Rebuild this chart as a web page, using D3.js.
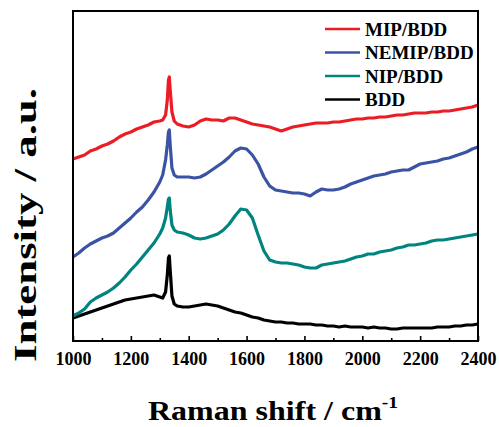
<!DOCTYPE html>
<html>
<head>
<meta charset="utf-8">
<script src="https://cdn.jsdelivr.net/npm/d3@7"></script>
<style>
  body { margin: 0; background: #fff; }
  text { font-family: "Liberation Serif", "Times New Roman", serif; font-weight: bold; }
</style>
</head>
<body>
<div id="chart"></div>
<script>
// Raman shift (cm-1), shared by all spectra
const shift = [
  1000, 1020, 1040, 1060, 1080, 1100, 1120, 1140, 1160, 1180, 1200, 1220, 1240, 1260, 1280, 1300,
  1310, 1320, 1326, 1330, 1333, 1336, 1342, 1350,
  1360, 1380, 1400, 1420, 1440, 1460, 1480, 1500, 1520, 1540, 1560, 1580, 1600, 1620, 1640, 1660,
  1680, 1700, 1720, 1740, 1760, 1780, 1800, 1820, 1840, 1860, 1880, 1900, 1920, 1940, 1960, 1980,
  2000, 2020, 2040, 2060, 2080, 2100, 2120, 2140, 2160, 2180, 2200, 2220, 2240, 2260, 2280, 2300,
  2320, 2340, 2360, 2380, 2400
];

// intensities (a.u., offset stacked as in the figure)
const mipBdd = [
  182, 184, 186, 190, 192, 195, 197, 200, 204, 207, 209, 212, 214, 216, 219, 220,
  221, 226, 241, 261, 264, 251, 229, 220,
  217, 215, 214, 216, 220, 222, 221, 221, 220, 223, 223, 221, 219, 217, 216, 215,
  214, 212, 210, 212, 214, 215, 216, 217, 218, 218, 218, 219, 219, 220, 221, 222,
  222, 223, 223, 224, 224, 225, 226, 226, 227, 228, 228, 228, 229, 229, 230, 230,
  231, 232, 233, 234, 236
];
const nemipBdd = [
  84, 88, 93, 97, 100, 103, 105, 108, 113, 118, 123, 129, 134, 141, 149, 159,
  166, 181, 196, 209, 211, 196, 173, 166,
  164, 164, 164, 163, 164, 167, 171, 175, 179, 184, 190, 193, 192, 186, 177, 164,
  155, 151, 150, 149, 148, 148, 147, 145, 149, 152, 151, 151, 152, 154, 157, 159,
  161, 163, 165, 166, 167, 169, 170, 171, 171, 174, 177, 178, 179, 180, 182, 183,
  185, 187, 189, 192, 194
];
const nipBdd = [
  25, 28, 32, 39, 43, 46, 49, 53, 58, 64, 71, 77, 84, 91, 98, 107,
  113, 123, 134, 142, 143, 131, 116, 111,
  109, 108, 106, 103, 102, 103, 105, 107, 111, 117, 125, 132, 131, 123, 106, 90,
  81, 79, 78, 78, 77, 76, 74, 73, 73, 76, 77, 78, 79, 80, 82, 84,
  85, 87, 87, 89, 90, 91, 93, 94, 96, 96, 97, 98, 100, 101, 101, 102,
  103, 104, 105, 106, 107
];
const bdd = [
  23, 25, 27, 29, 31, 33, 35, 37, 39, 41, 42, 43, 44, 45, 46, 44,
  43, 49, 66, 83, 85, 71, 45, 37,
  35, 34, 34, 35, 36, 37, 36, 35, 33, 31, 29, 28, 26, 24, 23, 21,
  20, 19, 19, 18, 18, 17, 17, 17, 16, 16, 15, 15, 14, 15, 14, 14,
  14, 13, 14, 13, 13, 12, 12, 13, 13, 13, 13, 13, 13, 14, 14, 14,
  15, 15, 16, 16, 17
];

const seriesNames = ['MIP/BDD', 'NEMIP/BDD', 'NIP/BDD', 'BDD'];
const seriesColors = ['#ec1c24', '#3a53a4', '#00847f', '#000000'];
const seriesValues = [mipBdd, nemipBdd, nipBdd, bdd];

const majorTicks = [1000, 1200, 1400, 1600, 1800, 2000, 2200, 2400];
const minorTicks = [1100, 1300, 1500, 1700, 1900, 2100, 2300];

const width = 499;
const height = 427;
const margin = {top: 11, right: 21, bottom: 86, left: 73};
const plotW = width - margin.left - margin.right;
const plotH = height - margin.top - margin.bottom;

const svg = d3.select('#chart').append('svg')
  .attr('width', width)
  .attr('height', height);

const x = d3.scaleLinear().domain([1000, 2400]).range([0, plotW]);
const y = d3.scaleLinear().domain([0, 330]).range([plotH, 0]);

const g = svg.append('g')
  .attr('transform', `translate(${margin.left},${margin.top})`);

const line = d3.line()
  .x((d, i) => x(shift[i]))
  .y(d => y(d))
  .curve(d3.curveLinear);

// draw bottom first so red sits on top like the original
seriesValues.slice().reverse().forEach((vals, k) => {
  const i = seriesValues.length - 1 - k;
  g.append('path')
    .datum(vals)
    .attr('fill', 'none')
    .attr('stroke', seriesColors[i])
    .attr('stroke-width', 3.2)
    .attr('stroke-linejoin', 'round')
    .attr('d', line);
});

// bottom axis, ticks point inward
const axisMajor = g.append('g')
  .attr('transform', `translate(0,${plotH})`)
  .call(d3.axisBottom(x).tickValues(majorTicks).tickSize(-5).tickPadding(11).tickFormat(d3.format('d')));
axisMajor.select('.domain').remove();
axisMajor.selectAll('line').attr('stroke', '#000').attr('stroke-width', 1.6);
axisMajor.selectAll('text')
  .attr('fill', '#000')
  .style('font-size', '18px');

const axisMinor = g.append('g')
  .attr('transform', `translate(0,${plotH})`)
  .call(d3.axisBottom(x).tickValues(minorTicks).tickSize(-3).tickFormat(''));
axisMinor.select('.domain').remove();
axisMinor.selectAll('line').attr('stroke', '#000').attr('stroke-width', 1.6);

// frame
g.append('rect')
  .attr('width', plotW)
  .attr('height', plotH)
  .attr('fill', 'none')
  .attr('stroke', '#000')
  .attr('stroke-width', 2);

// legend
const legend = g.append('g').attr('transform', 'translate(252,18)');
seriesNames.forEach((name, i) => {
  const row = legend.append('g').attr('transform', `translate(0,${i * 23.5})`);
  row.append('line')
    .attr('x1', 0).attr('x2', 35)
    .attr('stroke', seriesColors[i])
    .attr('stroke-width', 2.5);
  row.append('text')
    .attr('x', 40)
    .attr('y', 6.5)
    .style('font-size', '19px')
    .text(name);
});

// axis titles
const xTitle = svg.append('text')
  .attr('x', 148)
  .attr('y', 420)
  .attr('textLength', 250)
  .attr('lengthAdjust', 'spacingAndGlyphs')
  .style('font-size', '28px');
xTitle.append('tspan').text('Raman shift / cm');
xTitle.append('tspan')
  .attr('dy', -12)
  .style('font-size', '17px')
  .text('-1');

svg.append('text')
  .attr('transform', 'translate(36,362) rotate(-90)')
  .attr('textLength', 274)
  .attr('lengthAdjust', 'spacingAndGlyphs')
  .style('font-size', '32px')
  .text('Intensity / a.u.');
</script>
</body>
</html>
